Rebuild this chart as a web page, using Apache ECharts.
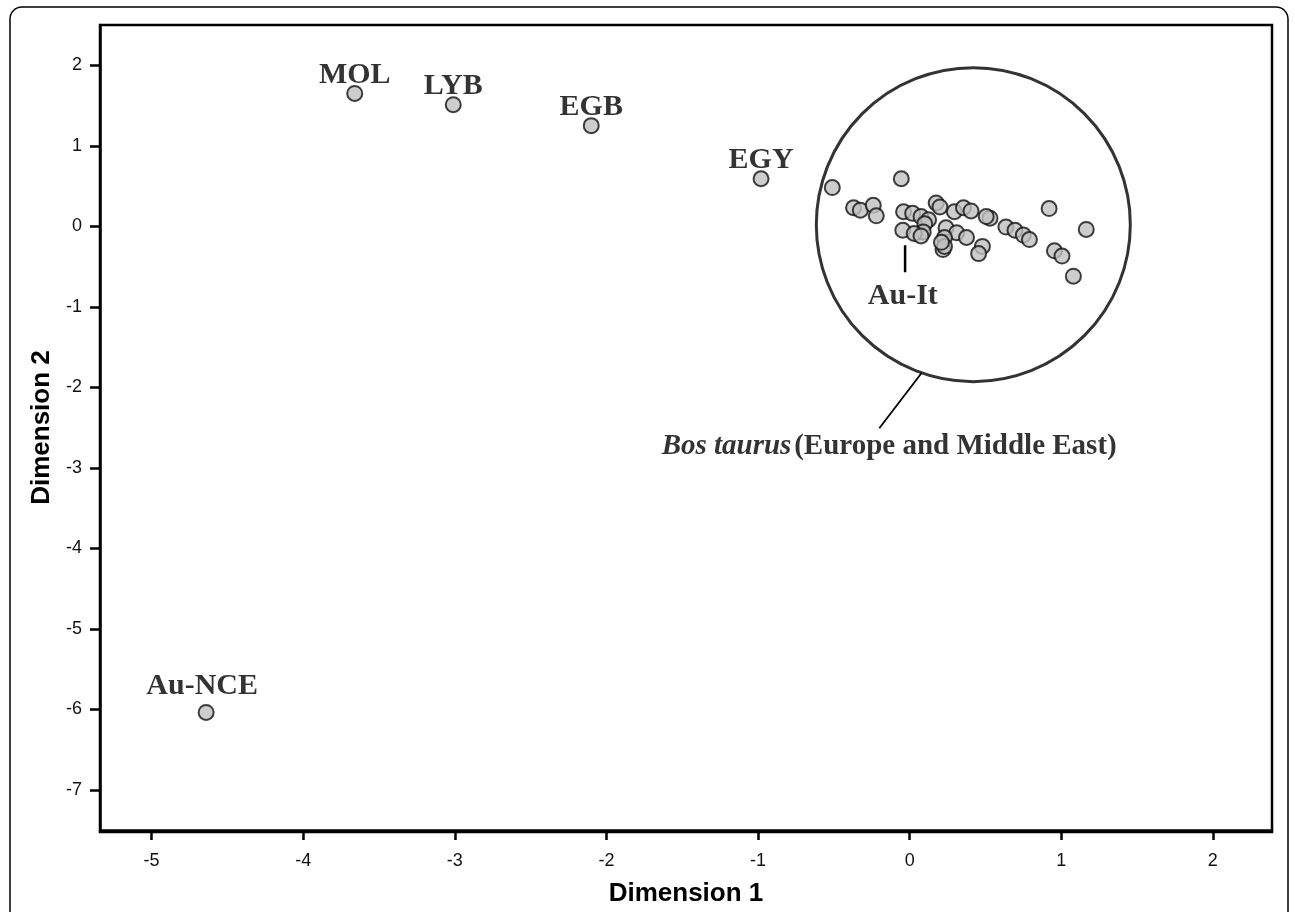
<!DOCTYPE html>
<html>
<head>
<meta charset="utf-8">
<script src="https://cdn.jsdelivr.net/npm/echarts@6/dist/echarts.min.js"></script>
<style>html,body{margin:0;padding:0;background:#fff;}#c{width:1295px;height:912px;}</style>
</head>
<body>
<div id="c"></div>
<script>
// Labelled populations [Dimension 1, Dimension 2]
const namedNames = ["MOL", "LYB", "EGB", "EGY", "Au-NCE"];
const namedX = [-3.66, -3.01, -2.10, -0.98, -4.64];
const namedY = [1.65, 1.51, 1.25, 0.59, -6.04];

// Bos taurus cluster (Europe and Middle East)
const clusterX = [-0.51, -0.055, -0.37, -0.325, -0.24, -0.22, -0.04, 0.02, 0.075, 0.125, 0.10, 0.09,
  -0.045, 0.03, 0.075, 0.175, 0.20, 0.295, 0.355, 0.405, 0.24, 0.31, 0.375, 0.23, 0.22, 0.23,
  0.48, 0.455, 0.53, 0.505, 0.635, 0.695, 0.75, 0.79, 0.92, 0.955, 1.005, 1.08, 1.165, 0.21];
const clusterY = [0.48, 0.59, 0.23, 0.20, 0.26, 0.13, 0.18, 0.16, 0.12, 0.08, 0.03, -0.07,
  -0.05, -0.09, -0.12, 0.29, 0.24, 0.18, 0.23, 0.19, -0.02, -0.08, -0.14, -0.14, -0.29, -0.25,
  -0.25, -0.34, 0.10, 0.12, -0.01, -0.05, -0.11, -0.165, 0.22, -0.305, -0.37, -0.62, -0.04, -0.20];

// Annotation anchors (data coordinates)
const circleCenter = [0.42, 0.02];
const auItLine = [[-0.03, -0.235], [-0.03, -0.57]];
const auItLabel = [-0.045, -0.87];
const bosLine = [[0.08, -1.82], [-0.20, -2.51]];
const bosLabel = [-0.135, -2.74];

const xTicks = [-5, -4, -3, -2, -1, 0, 1, 2];
const yTicks = [2, 1, 0, -1, -2, -3, -4, -5, -6, -7];

const chart = echarts.init(document.getElementById('c'), null, {renderer: 'canvas'});

const serif = '"Liberation Serif", "Times New Roman", serif';
const sans = '"Liberation Sans", Arial, sans-serif';
const ink = '#000';

const axisCommon = {
  axisLine: {show: true, onZero: false, lineStyle: {color: ink, width: 2.5}},
  axisTick: {show: true, length: 10, lineStyle: {color: ink, width: 2.5}},
  splitLine: {show: false},
  axisLabel: {color: '#111', fontFamily: sans, fontSize: 18, margin: 18},
  nameTextStyle: {color: ink, fontFamily: sans, fontSize: 26, fontWeight: 'bold'}
};

const markerStyle = {color: '#c0c0c0', borderColor: '#111', borderWidth: 2};

const option = {
  backgroundColor: '#fff',
  animation: false,
  graphic: [{
    type: 'rect',
    shape: {x: 10, y: 7, width: 1278, height: 940, r: 12},
    style: {fill: 'none', stroke: ink, lineWidth: 1.5},
    z: -10
  }, {
    type: 'rect',
    shape: {x: 100, y: 25, width: 1172, height: 807},
    style: {fill: 'none', stroke: ink, lineWidth: 2.5},
    z: 10
  }],
  grid: {left: 100, right: 23, top: 25, bottom: 80},
  xAxis: Object.assign({}, axisCommon, {
    type: 'value', min: -5.34, max: 2.39,
    name: 'Dimension 1', nameLocation: 'middle', nameGap: 51,
    axisLabel: Object.assign({}, axisCommon.axisLabel, {
      margin: 22,
      customValues: xTicks,
      formatter: v => String(v)
    }),
    axisTick: Object.assign({}, axisCommon.axisTick, {customValues: xTicks})
  }),
  yAxis: Object.assign({}, axisCommon, {
    type: 'value', min: -7.5, max: 2.5,
    name: 'Dimension 2', nameLocation: 'middle', nameGap: 45, nameRotate: 90,
    axisLabel: Object.assign({}, axisCommon.axisLabel, {
      customValues: yTicks,
      formatter: v => String(v)
    }),
    axisTick: Object.assign({}, axisCommon.axisTick, {customValues: yTicks})
  }),
  series: [
    {
      type: 'scatter',
      symbolSize: 314,
      data: [circleCenter],
      itemStyle: {color: 'rgba(0,0,0,0)', borderColor: ink, borderWidth: 3},
      silent: true, z: 1
    },
    {
      type: 'scatter',
      symbolSize: 15,
      data: clusterX.map((x, i) => [x, clusterY[i]]),
      itemStyle: markerStyle,
      z: 3
    },
    {
      type: 'scatter',
      symbolSize: 15,
      data: namedX.map((x, i) => {
        const d = {value: [x, namedY[i]], name: namedNames[i]};
        if (namedNames[i] === 'Au-NCE') d.label = {distance: 3, offset: [-4, 0]};
        return d;
      }),
      itemStyle: markerStyle,
      label: {
        show: true, position: 'top', distance: -5,
        formatter: p => p.name,
        color: ink, fontFamily: serif, fontWeight: 'bold', fontSize: 30
      },
      z: 3
    },
    {
      type: 'line', data: auItLine, symbol: 'none',
      lineStyle: {color: ink, width: 2.5}, z: 2
    },
    {
      type: 'line', data: bosLine, symbol: 'none',
      lineStyle: {color: ink, width: 1.8}, z: 2
    },
    {
      type: 'scatter', symbolSize: 0,
      data: [{value: auItLabel, name: 'Au-It'}],
      label: {
        show: true, position: 'inside',
        formatter: 'Au-It',
        color: ink, fontFamily: serif, fontWeight: 'bold', fontSize: 30
      }
    },
    {
      type: 'scatter', symbolSize: 0,
      data: [{value: bosLabel, name: 'Bos'}],
      label: {
        show: true, position: 'inside',
        formatter: '{i|Bos taurus} {b|(Europe and Middle East)}',
        rich: {
          i: {color: ink, fontFamily: serif, fontWeight: 'bold', fontStyle: 'italic', fontSize: 29},
          b: {color: ink, fontFamily: serif, fontWeight: 'bold', fontSize: 29}
        },
        fontSize: 10
      }
    }
  ]
};
chart.setOption(option);
</script>
</body>
</html>
